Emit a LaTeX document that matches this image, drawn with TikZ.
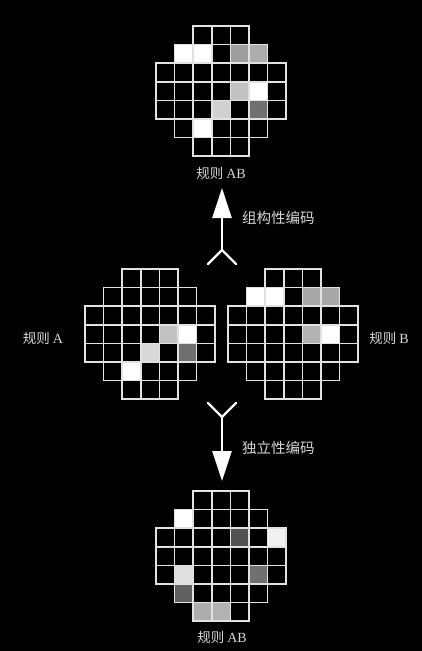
\documentclass[tikz,border=0pt]{standalone}
\usepackage{fontspec}
\setmainfont{Liberation Serif}
\newfontfamily\cjk{Noto Sans CJK SC}
\usetikzlibrary{arrows.meta}
\definecolor{gridc}{HTML}{E2E2E2}
\definecolor{labc}{HTML}{D6D6D6}
\tikzset{
  gridline/.style={draw=gridc, line width=1.5pt},
  lab/.style={text=labc, font=\cjk\fontsize{13.5}{15}\selectfont, inner sep=0pt},
  codelab/.style={text=labc, font=\cjk\fontsize{14.5}{16}\selectfont, inner sep=0pt, anchor=west},
  arrowline/.style={draw=white, line width=2.4pt, -{Triangle[length=30pt,width=19pt]}},
  forkline/.style={draw=white, line width=2.4pt, line cap=round},
}
\newcommand\cellsz{18.6}
\newcommand\lat[1]{{\rmfamily\fontsize{14}{15}\selectfont #1}}
\newcommand\hexgrid[3]{%
  \foreach \r/\c/\col in {#3}{%
    \fill[\col] (#1+\c*\cellsz, #2+\r*\cellsz) rectangle ++(\cellsz,\cellsz);}
  \foreach \r/\a/\b in {0/2/4,1/1/5,2/0/6,3/0/6,4/0/6,5/1/5,6/2/4}{%
    \foreach \c in {\a,...,\b}{%
      \draw[gridline] (#1+\c*\cellsz, #2+\r*\cellsz) rectangle ++(\cellsz,\cellsz);}}%
}
\begin{document}
\begin{tikzpicture}[x=1pt,y=-1pt]
\fill[black] (0,0) rectangle (422,651);
\useasboundingbox (0,0) rectangle (422,651);
% grids
\hexgrid{156}{26}{1/1/white,1/2/white,1/4/white!62!black,1/5/white!68!black,3/4/white!76!black,3/5/white,4/3/white!82!black,4/5/white!44!black,5/2/white}
\hexgrid{85}{269}{3/4/white!76!black,3/5/white,4/3/white!85!black,4/5/white!44!black,5/2/white}
\hexgrid{228}{269}{1/1/white,1/2/white,1/4/white!66!black,1/5/white!66!black,3/4/white!70!black,3/5/white}
\hexgrid{156}{491}{1/1/white,2/4/white!32!black,2/6/white!94!black,4/1/white!88!black,4/5/white!44!black,5/1/white!38!black,6/2/white!68!black,6/3/white!70!black}
% labels
\node[lab] (labtop) at (221,173) {规则 \lat{AB}};
\node[lab] (labA) at (43,338) {规则 \lat{A}};
\node[lab] (labB) at (389,338) {规则 \lat{B}};
\node[lab] (labbot) at (222,637) {规则 \lat{AB}};
% top arrow
\coordinate (tj) at (222,250);
\coordinate (ttip) at (222,188);
\coordinate (tl) at (208,264);
\coordinate (tr) at (236,264);
\draw[arrowline] (tj) -- (ttip);
\draw[forkline] (tl) -- (tj) -- (tr);
\node[codelab] (tcode) at (242,218) {组构性编码};
% bottom arrow
\coordinate (bj) at (222,417);
\coordinate (btip) at (222,481);
\coordinate (bl) at (208,403);
\coordinate (br) at (236,403);
\draw[arrowline] (bj) -- (btip);
\draw[forkline] (bl) -- (bj) -- (br);
\node[codelab] (bcode) at (242,448) {独立性编码};
\end{tikzpicture}
\end{document}
